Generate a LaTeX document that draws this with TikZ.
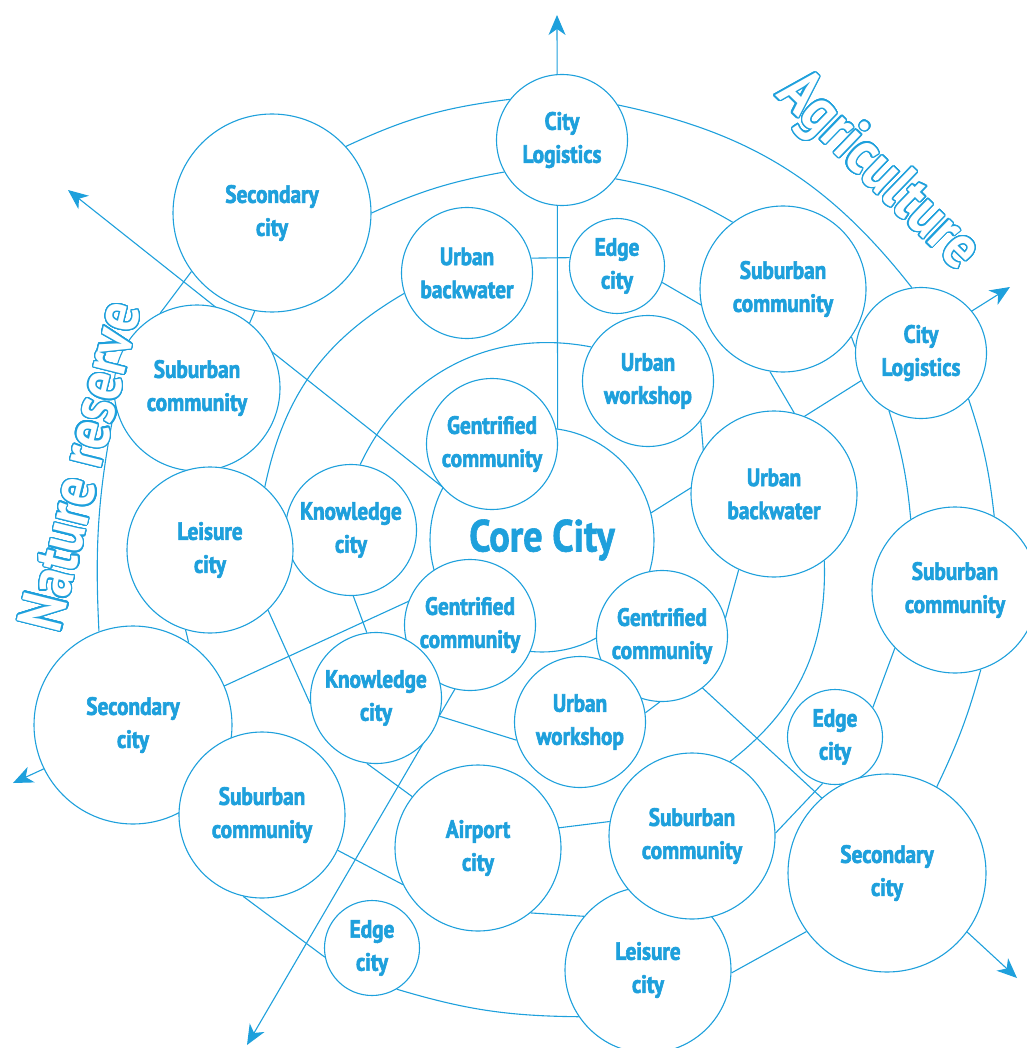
\documentclass[tikz,border=0pt]{standalone}
\usepackage{fontspec}
\setmainfont{PT Sans}[FakeStretch=0.85]
\usepackage{contour}
\contourlength{1.3pt}
\contournumber{32}
\usetikzlibrary{arrows.meta, backgrounds}
\definecolor{cityblue}{RGB}{30,160,220}
\newcommand\heavy{\special{pdf:literal direct 2 Tr 0.6 w}}

\tikzset{
  city/.style={circle, draw=cityblue, fill=white, line width=1.1pt, text=cityblue,
    font=\bfseries\fontsize{25}{33}\selectfont\heavy, align=center, inner sep=0pt},
  huge/.style={city, minimum size=224pt, font=\bfseries\fontsize{45}{45}\selectfont\heavy},
  big/.style={city, minimum size=198pt},
  mid/.style={city, minimum size=166pt},
  small/.style={city, minimum size=131pt},
  tiny/.style={city, minimum size=95pt},
  link/.style={draw=cityblue, line width=1.1pt},
  ray/.style={link, -{Stealth[length=20pt, width=17pt, inset=6pt]}},
  zone/.style={text=white, font=\bfseries\fontsize{63}{63}\selectfont}
}

\begin{document}
\begin{tikzpicture}[x=1pt, y=-1pt]
  \useasboundingbox (0,0) rectangle (1026,1048);

  % Core and first ring
  \node[huge] (core) at (542,540) {Core City};
  \node[small] (gentA) at (492,444) {Gentrified\\community};
  \node[small] (gentB) at (470,625) {Gentrified\\community};
  \node[small] (gentC) at (662,636) {Gentrified\\community};
  \node[small] (uwA) at (648,381) {Urban\\workshop};
  \node[small] (uwB) at (580,722) {Urban\\workshop};
  \node[small] (knowA) at (351,530) {Knowledge\\city};
  \node[small] (knowB) at (376,698) {Knowledge\\city};
  \node[mid] (ubR) at (774,494) {Urban\\backwater};
  \node[small] (ubA) at (467,273) {Urban\\backwater};
  \node[tiny] (edgeA) at (617,266) {Edge\\city};
  \node[mid] (airport) at (478,848) {Airport\\city};

  % Outer rings
  \node[small] (clTop) at (562,140) {City\\Logistics};
  \node[big] (secTL) at (272,213) {Secondary\\city};
  \node[mid] (subTR) at (783,289) {Suburban\\community};
  \node[small] (clR) at (921,353) {City\\Logistics};
  \node[mid] (subTL) at (197,388) {Suburban\\community};
  \node[mid] (leisA) at (210,550) {Leisure\\city};
  \node[mid] (subR) at (955,590) {Suburban\\community};
  \node[big] (secL) at (133,725) {Secondary\\city};
  \node[mid] (subLL) at (262,815) {Suburban\\community};
  \node[tiny] (edgeR) at (835,737) {Edge\\city};
  \node[mid] (leisB) at (648,970) {Leisure\\city};
  \node[mid] (subB) at (692,836) {Suburban\\community};
  \node[big] (secR) at (887,873) {Secondary\\city};
  \node[tiny] (edgeB) at (372,948) {Edge\\city};

  % Arrow ends
  \coordinate (nTip) at (557,15);
  \coordinate (neTip) at (1010,287);
  \coordinate (seTip) at (1017,978);
  \coordinate (swTip) at (247,1045);
  \coordinate (wTip) at (13,783);
  \coordinate (nwTip) at (68,190);

  % Zones
  \node[zone, rotate=-44] (agri) at (877,173) {\contour{cityblue}{Agriculture}};
  \node[zone, rotate=76] (nature) at (80,466) {\contour{cityblue}{Nature reserve}};

  \begin{pgfonlayer}{background}
    % Rays from the core
    \draw[ray] (core.82) -- (nTip);
    \draw[ray] (core.14) -- (neTip);
    \draw[ray] (core) -- (seTip);
    \draw[ray] (core) -- (swTip);
    \draw[ray] (core) -- (wTip);
    \draw[ray] (core.152) -- (nwTip);

    % Outer ring
    \draw[link] (secTL.42) to[bend left=9] (clTop.142);
    \draw[link] (clTop.32) to[bend left=20] (clR.98);
    \draw[link] (secTL.216) -- (subTL.116);
    \draw[link] (subTL.192) to[bend right=7] (secL.110);
    \draw[link] (clR.-44) to[bend left=6] (subR.62);
    \draw[link] (subR.-72) to[bend left=5] (secR.60);
    \draw[link] (secR.216) -- (leisB.-2);
    \draw[link] (subLL.257) -- (edgeB.191);
    \draw[link] (edgeB.-59) to[bend right=8] (leisB.214);

    % Middle ring
    \draw[link] (secTL.0) to[bend left=7] (clTop.209);
    \draw[link] (clTop.-36) to[bend left=10] (subTR.127);
    \draw[link] (secTL.260) -- (subTL.51);
    \draw[link] (subTR.-35) -- (clR.175);
    \draw[link] (clR.241) to[bend left=6] (subR.122);
    \draw[link] (leisA.253) -- (secL.56);
    \draw[link] (leisA.-46) -- (knowB.185);
    \draw[link] (subLL.-25) -- (airport.206);
    \draw[link] (airport.14) -- (subB.170);
    \draw[link] (airport.-51) -- (leisB.140);
    \draw[link] (subB.2) -- (edgeR.255);
    \draw[link] (edgeR.38) -- (subR.224);
    \draw[link] (ubR.-53) to[bend left=27] (subB.63);

    % Inner ring
    \draw[link] (ubA.13) -- (edgeA.170);
    \draw[link] (edgeA.-20) -- (subTR.191);
    \draw[link] (ubA.198) to[bend right=24] (leisA.49);
    \draw[link] (knowA.82) to[bend left=38] (uwA.149);
    \draw[link] (uwA.-37) -- (ubR.222);
    \draw[link] (subTR.261) -- (ubR.76);
    \draw[link] (ubR.245) -- (gentC.16);
    \draw[link] (knowA.-88) -- (knowB.98);
    \draw[link] (knowB.-16) -- (uwB.196);
    \draw[link] (knowB.262) -- (airport.142);
    \draw[link] (gentB.26) -- (gentC.175);
    \draw[link] (uwB.8) -- (gentC.268);
  \end{pgfonlayer}
\end{tikzpicture}
\end{document}
